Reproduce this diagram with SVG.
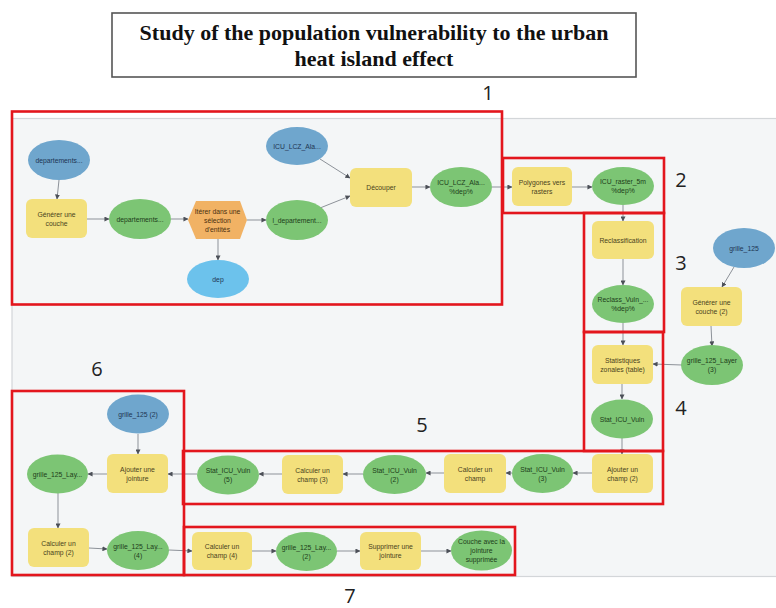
<svg xmlns="http://www.w3.org/2000/svg" width="776" height="608" viewBox="0 0 776 608">
  <style>
    .title { font-family: "Liberation Serif", "Times New Roman", serif; font-weight: bold; font-size: 22px; fill: #111; text-anchor: middle; }
    .num { font-family: "Open Sans", "Liberation Sans", sans-serif; font-size: 20px; fill: #222; text-anchor: middle; }
    .t { font-family: "Liberation Sans", Arial, sans-serif; font-size: 6.8px; text-anchor: middle; }
    .data { fill: #6fa6cd; }
    .data2 { fill: #6cc2ec; }
    .out { fill: #7cc574; }
    .tool { fill: #f3e07c; }
    .iter { fill: #f1b264; }
    .data + text, .data2 + text { fill: #1e3552; }
    .out + text { fill: #1d3d1a; }
    .tool + text { fill: #4a4220; }
    .iter + text { fill: #4a3010; }
    .zone { fill: none; stroke: #e3161d; stroke-width: 2.6; }
    .link { fill: none; stroke: #8d9299; stroke-width: 1; marker-end: url(#arrow); }
  </style>
  <defs>
    <marker id="arrow" viewBox="0 0 6 6" refX="5.5" refY="3" markerWidth="5" markerHeight="5" markerUnits="userSpaceOnUse" orient="auto">
      <path d="M0,0 L6,3 L0,6 z" fill="#4c5058"/>
    </marker>
  </defs>

  <rect width="776" height="608" fill="#ffffff"/>

  <!-- title -->
  <g id="title">
    <rect x="112" y="13" width="524" height="64" fill="#ffffff" stroke="#555555" stroke-width="1.6"/>
    <text class="title" x="374" y="40">Study of the population vulnerability to the urban</text>
    <text class="title" x="374" y="66">heat island effect</text>
  </g>

  <!-- model canvas -->
  <rect x="12" y="118.5" width="766" height="458" fill="#f4f6f7" stroke="#d3d6d9" stroke-width="1.2"/>

  <!-- connectors -->
  <g id="connectors">
    <line class="link" x1="59" y1="180" x2="57" y2="199"/>
    <line class="link" x1="87" y1="219" x2="109" y2="219"/>
    <line class="link" x1="171" y1="219" x2="188" y2="219"/>
    <line class="link" x1="218" y1="239" x2="218" y2="260"/>
    <line class="link" x1="247" y1="220" x2="266" y2="220"/>
    <line class="link" x1="320" y1="159" x2="350" y2="178"/>
    <line class="link" x1="320" y1="208" x2="350" y2="196"/>
    <line class="link" x1="412" y1="187" x2="430" y2="187"/>
    <line class="link" x1="492" y1="187" x2="512" y2="187"/>
    <line class="link" x1="572" y1="187" x2="592" y2="187"/>
    <line class="link" x1="623" y1="205" x2="623" y2="221"/>
    <line class="link" x1="623" y1="259" x2="623" y2="285"/>
    <line class="link" x1="623" y1="323" x2="623" y2="345"/>
    <line class="link" x1="734" y1="267" x2="722" y2="287"/>
    <line class="link" x1="711" y1="326" x2="712" y2="346"/>
    <line class="link" x1="682" y1="365" x2="653" y2="364"/>
    <line class="link" x1="622" y1="384" x2="622" y2="399"/>
    <line class="link" x1="622" y1="438" x2="622" y2="454"/>
    <line class="link" x1="592" y1="473" x2="573" y2="473"/>
    <line class="link" x1="512" y1="473" x2="506" y2="473"/>
    <line class="link" x1="444" y1="473" x2="426" y2="473"/>
    <line class="link" x1="363" y1="474" x2="343" y2="474"/>
    <line class="link" x1="282" y1="474" x2="259" y2="474"/>
    <line class="link" x1="197" y1="474" x2="168" y2="474"/>
    <line class="link" x1="138" y1="434" x2="138" y2="454"/>
    <line class="link" x1="107" y1="474" x2="88" y2="474"/>
    <line class="link" x1="58" y1="493" x2="58" y2="528"/>
    <line class="link" x1="89" y1="548" x2="107" y2="549"/>
    <line class="link" x1="169" y1="550" x2="192" y2="551"/>
    <line class="link" x1="252" y1="551" x2="276" y2="551"/>
    <line class="link" x1="337" y1="551" x2="360" y2="551"/>
    <line class="link" x1="421" y1="551" x2="451" y2="551"/>
  </g>

  <!-- step 1 -->
  <g id="departements-in">
    <ellipse class="data" cx="59" cy="160" rx="31" ry="20"/>
    <text class="t" x="59" y="162.5">departements...</text>
  </g>
  <g id="generer-couche">
    <rect class="tool" x="26" y="199" width="61" height="39" rx="6"/>
    <text class="t"><tspan x="56.5" y="216.5">Générer une</tspan><tspan x="56.5" y="225.5">couche</tspan></text>
  </g>
  <g id="departements-out">
    <ellipse class="out" cx="140" cy="219" rx="31" ry="20"/>
    <text class="t" x="140" y="221.5">departements...</text>
  </g>
  <g id="iterer-selection">
    <polygon class="iter" points="188,220 196,201 240,201 247,220 240,239 196,239"/>
    <text class="t"><tspan x="217.5" y="213.5">Itérer dans une</tspan><tspan x="217.5" y="222.5">sélection</tspan><tspan x="217.5" y="231.5">d'entités</tspan></text>
  </g>
  <g id="dep">
    <ellipse class="data2" cx="218" cy="279" rx="31" ry="19"/>
    <text class="t" x="218" y="281.5">dep</text>
  </g>
  <g id="icu-lcz-in">
    <ellipse class="data" cx="297" cy="146" rx="31" ry="19"/>
    <text class="t" x="297" y="148.5">ICU_LCZ_Ala...</text>
  </g>
  <g id="l-departement">
    <ellipse class="out" cx="297" cy="220" rx="31" ry="20"/>
    <text class="t" x="297" y="222.5">l_departement...</text>
  </g>
  <g id="decouper">
    <rect class="tool" x="350" y="168" width="62" height="39" rx="6"/>
    <text class="t" x="381" y="190">Découper</text>
  </g>
  <g id="icu-lcz-dep">
    <ellipse class="out" cx="461" cy="187" rx="31" ry="20"/>
    <text class="t"><tspan x="461" y="185">ICU_LCZ_Ala...</tspan><tspan x="461" y="194">%dep%</tspan></text>
  </g>

  <!-- step 2 -->
  <g id="polygones-rasters">
    <rect class="tool" x="512" y="167" width="60" height="39" rx="6"/>
    <text class="t"><tspan x="542" y="185">Polygones vers</tspan><tspan x="542" y="194">rasters</tspan></text>
  </g>
  <g id="icu-raster">
    <ellipse class="out" cx="623" cy="186" rx="31" ry="19"/>
    <text class="t"><tspan x="623" y="184">ICU_raster_5m</tspan><tspan x="623" y="193">%dep%</tspan></text>
  </g>

  <!-- step 3 -->
  <g id="reclassification">
    <rect class="tool" x="592" y="221" width="62" height="38" rx="6"/>
    <text class="t" x="623" y="242.5">Reclassification</text>
  </g>
  <g id="reclass-vuln">
    <ellipse class="out" cx="623" cy="304" rx="31" ry="19"/>
    <text class="t"><tspan x="623" y="302">Reclass_Vuln_...</tspan><tspan x="623" y="311">%dep%</tspan></text>
  </g>

  <!-- grid input -->
  <g id="grille-125">
    <ellipse class="data" cx="744" cy="248" rx="31" ry="20"/>
    <text class="t" x="744" y="250.5">grille_125</text>
  </g>
  <g id="generer-couche-2">
    <rect class="tool" x="681" y="287" width="61" height="39" rx="6"/>
    <text class="t"><tspan x="711.5" y="304.5">Générer une</tspan><tspan x="711.5" y="313.5">couche (2)</tspan></text>
  </g>
  <g id="grille-layer-3">
    <ellipse class="out" cx="712" cy="365" rx="31" ry="20"/>
    <text class="t"><tspan x="712" y="363">grille_125_Layer</tspan><tspan x="712" y="372">(3)</tspan></text>
  </g>

  <!-- step 4 -->
  <g id="statistiques-zonales">
    <rect class="tool" x="592" y="345" width="61" height="39" rx="6"/>
    <text class="t"><tspan x="622.5" y="362.5">Statistiques</tspan><tspan x="622.5" y="371.5">zonales (table)</tspan></text>
  </g>
  <g id="stat-icu-vuln">
    <ellipse class="out" cx="622" cy="419" rx="31" ry="19.5"/>
    <text class="t" x="622" y="421.5">Stat_ICU_Vuln</text>
  </g>

  <!-- step 5 -->
  <g id="ajouter-champ-2">
    <rect class="tool" x="592" y="454" width="61" height="39" rx="6"/>
    <text class="t"><tspan x="622.5" y="471.5">Ajouter un</tspan><tspan x="622.5" y="480.5">champ (2)</tspan></text>
  </g>
  <g id="stat-icu-vuln-3">
    <ellipse class="out" cx="542.5" cy="473.5" rx="30.5" ry="19.5"/>
    <text class="t"><tspan x="542.5" y="471.5">Stat_ICU_Vuln</tspan><tspan x="542.5" y="480.5">(3)</tspan></text>
  </g>
  <g id="calculer-champ">
    <rect class="tool" x="444" y="454" width="62" height="39" rx="6"/>
    <text class="t"><tspan x="475" y="471.5">Calculer un</tspan><tspan x="475" y="480.5">champ</tspan></text>
  </g>
  <g id="stat-icu-vuln-2">
    <ellipse class="out" cx="394.5" cy="474.5" rx="31.5" ry="19.5"/>
    <text class="t"><tspan x="394.5" y="472.5">Stat_ICU_Vuln</tspan><tspan x="394.5" y="481.5">(2)</tspan></text>
  </g>
  <g id="calculer-champ-3">
    <rect class="tool" x="282" y="455" width="61" height="39" rx="6"/>
    <text class="t"><tspan x="312.5" y="472.5">Calculer un</tspan><tspan x="312.5" y="481.5">champ (3)</tspan></text>
  </g>
  <g id="stat-icu-vuln-5">
    <ellipse class="out" cx="228" cy="475" rx="31" ry="19.5"/>
    <text class="t"><tspan x="228" y="473">Stat_ICU_Vuln</tspan><tspan x="228" y="482">(5)</tspan></text>
  </g>

  <!-- step 6 -->
  <g id="grille-125-2">
    <ellipse class="data" cx="138" cy="414" rx="31" ry="19.5"/>
    <text class="t" x="138" y="416.5">grille_125 (2)</text>
  </g>
  <g id="ajouter-jointure">
    <rect class="tool" x="107" y="454" width="61" height="39" rx="6"/>
    <text class="t"><tspan x="137.5" y="471.5">Ajouter une</tspan><tspan x="137.5" y="480.5">jointure</tspan></text>
  </g>
  <g id="grille-layer">
    <ellipse class="out" cx="57.5" cy="474" rx="30.5" ry="19.5"/>
    <text class="t" x="57.5" y="476.5">grille_125_Lay...</text>
  </g>
  <g id="calculer-champ-2">
    <rect class="tool" x="28" y="528" width="61" height="39" rx="6"/>
    <text class="t"><tspan x="58.5" y="545.5">Calculer un</tspan><tspan x="58.5" y="554.5">champ (2)</tspan></text>
  </g>
  <g id="grille-layer-4">
    <ellipse class="out" cx="138" cy="550.5" rx="31" ry="19.5"/>
    <text class="t"><tspan x="138" y="548.5">grille_125_Lay...</tspan><tspan x="138" y="557.5">(4)</tspan></text>
  </g>

  <!-- step 7 -->
  <g id="calculer-champ-4">
    <rect class="tool" x="192" y="532" width="60" height="38" rx="6"/>
    <text class="t"><tspan x="222" y="549">Calculer un</tspan><tspan x="222" y="558">champ (4)</tspan></text>
  </g>
  <g id="grille-layer-2">
    <ellipse class="out" cx="306.5" cy="551.5" rx="30.5" ry="19.5"/>
    <text class="t"><tspan x="306.5" y="549.5">grille_125_Lay...</tspan><tspan x="306.5" y="558.5">(2)</tspan></text>
  </g>
  <g id="supprimer-jointure">
    <rect class="tool" x="360" y="532" width="61" height="38" rx="6"/>
    <text class="t"><tspan x="390.5" y="549">Supprimer une</tspan><tspan x="390.5" y="558">jointure</tspan></text>
  </g>
  <g id="couche-jointure-supprimee">
    <ellipse class="out" cx="481.5" cy="550.5" rx="30.5" ry="20"/>
    <text class="t"><tspan x="481.5" y="544">Couche avec la</tspan><tspan x="481.5" y="553">jointure</tspan><tspan x="481.5" y="562">supprimée</tspan></text>
  </g>

  <!-- step frames -->
  <g id="zones">
    <rect class="zone" x="12" y="111.5" width="490" height="193"/>
    <rect class="zone" x="503" y="158" width="161" height="55"/>
    <rect class="zone" x="584" y="213" width="80" height="119"/>
    <rect class="zone" x="584" y="332" width="79" height="119"/>
    <rect class="zone" x="183" y="451" width="480" height="53"/>
    <rect class="zone" x="12" y="391" width="172" height="184"/>
    <rect class="zone" x="184" y="527" width="331" height="48"/>
  </g>

  <!-- step numbers -->
  <g id="step-numbers">
    <text class="num" x="488" y="100">1</text>
    <text class="num" x="681" y="187">2</text>
    <text class="num" x="681" y="270">3</text>
    <text class="num" x="681" y="415">4</text>
    <text class="num" x="422" y="432">5</text>
    <text class="num" x="97" y="376">6</text>
    <text class="num" x="350" y="603" font-size="19">7</text>
  </g>
</svg>
